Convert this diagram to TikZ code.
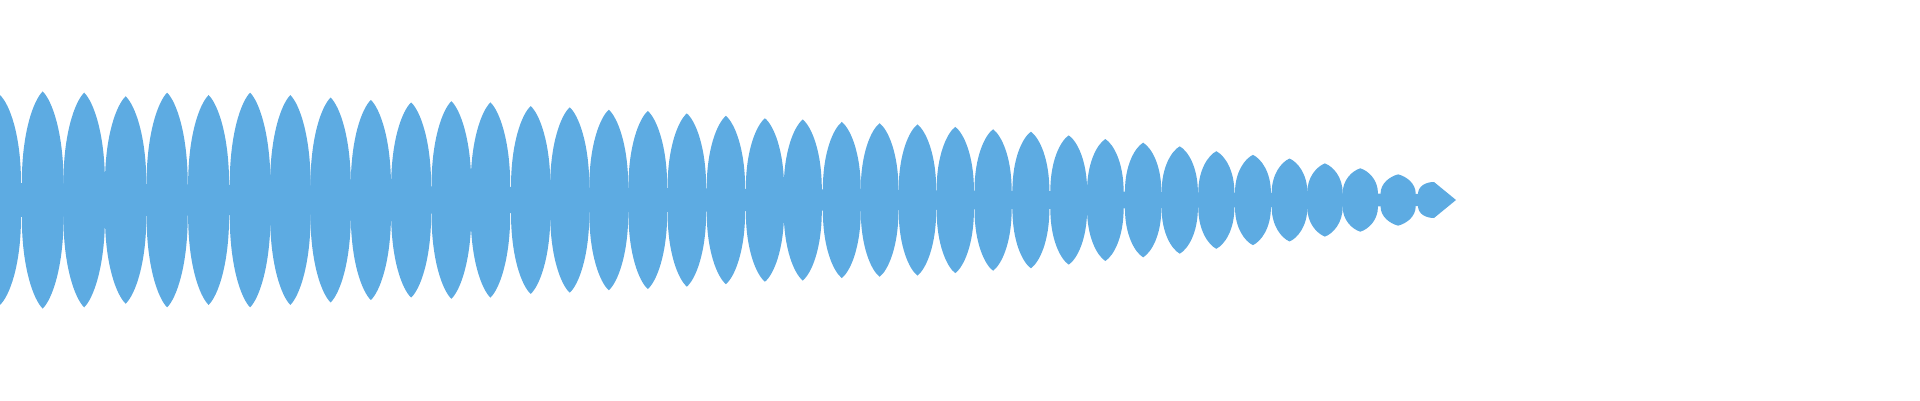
\documentclass[tikz,border=0pt]{standalone}
\definecolor{wave}{RGB}{93,171,226}
\begin{document}
\begin{tikzpicture}[x=1pt,y=-1pt]
\useasboundingbox (0,0) rectangle (1920,400);
\begin{scope}
\clip (0,0) rectangle (1920,400);
\fill[wave] (0,183) -- (1420,194) -- (1420,206) -- (0,217) -- cycle;
\foreach \px/\yt [evaluate=\px as \xc using \px*1.22,
                  evaluate=\yt as \A using (164-\yt)*1.22,
                  evaluate=\px as \hw using 21-3.5*\px*1.22/1434,
                  evaluate=\px as \m using 17-11*\px*1.22/1434] in
 {0/78,35/75,69/76,103/79,137/76,171/78,205/76,238/78,271/80,304/82,337/84,370/83,402/84,435/87,467/88,499/90,531/91,563/93,595/95,627/97,658/98,690/100,721/101,752/102,783/104,814/106,845/108,876/111,906/114,937/117,967/120,997/124,1027/127,1057/130,1086/134,1115/138,1146/143}
 {
  \pgfmathsetmacro{\h}{\A-\m}
  \fill[wave] (\xc-\hw,200-\m)
    .. controls (\xc-\hw,200-\m-0.55*\h) and (\xc-0.45*\hw,200-\A+0.1*\h) .. (\xc,200-\A)
    .. controls (\xc+0.45*\hw,200-\A+0.1*\h) and (\xc+\hw,200-\m-0.55*\h) .. (\xc+\hw,200-\m)
    -- (\xc+\hw,200+\m)
    .. controls (\xc+\hw,200+\m+0.55*\h) and (\xc+0.45*\hw,200+\A-0.1*\h) .. (\xc,200+\A)
    .. controls (\xc-0.45*\hw,200+\A-0.1*\h) and (\xc-\hw,200+\m+0.55*\h) .. (\xc-\hw,200+\m)
    -- cycle;
 }
% last, tapered lens
\fill[wave] (1418,194) .. controls (1418,186) and (1426,182) .. (1434,182)
  -- (1456,200) -- (1434,218) .. controls (1426,218) and (1418,214) .. (1418,206) -- cycle;
\end{scope}
\end{tikzpicture}
\end{document}
